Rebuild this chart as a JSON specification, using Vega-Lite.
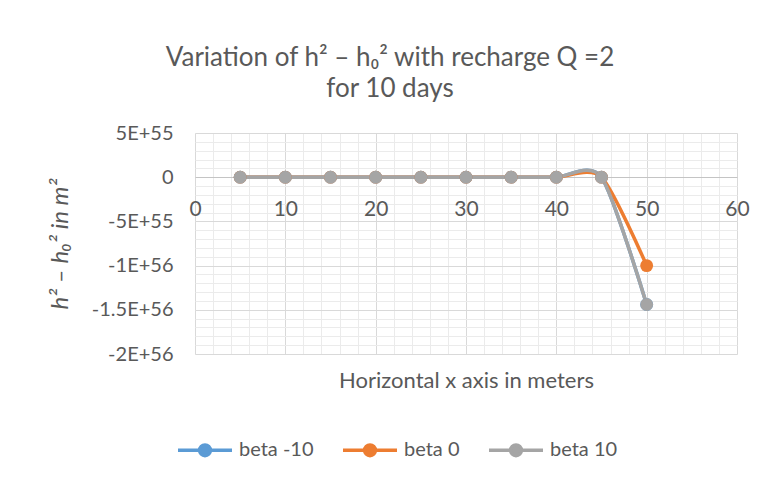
{
  "$schema": "https://vega.github.io/schema/vega-lite/v6.json",
  "width": 542,
  "height": 221,
  "autosize": {"type": "none"},
  "padding": {"left": 195, "top": 133, "right": 31, "bottom": 129},
  "background": "white",
  "config": {"font": "Lato", "view": {"stroke": null}},
  "title": {
    "text": ["Variation of h² – h₀² with recharge Q =2", "for 10 days"],
    "fontSize": 26,
    "fontWeight": "normal",
    "color": "#595959",
    "anchor": "middle",
    "dx": -76,
    "offset": 21,
    "lineHeight": 31
  },
  "data": {
    "values": [
      {"x": 5, "h": 0, "series": "beta -10"},
      {"x": 10, "h": 0, "series": "beta -10"},
      {"x": 15, "h": 0, "series": "beta -10"},
      {"x": 20, "h": 0, "series": "beta -10"},
      {"x": 25, "h": 0, "series": "beta -10"},
      {"x": 30, "h": 0, "series": "beta -10"},
      {"x": 35, "h": 0, "series": "beta -10"},
      {"x": 40, "h": 0, "series": "beta -10"},
      {"x": 45, "h": 0, "series": "beta -10"},
      {"x": 50, "h": -1.44e56, "series": "beta -10"},
      {"x": 5, "h": 0, "series": "beta 0"},
      {"x": 10, "h": 0, "series": "beta 0"},
      {"x": 15, "h": 0, "series": "beta 0"},
      {"x": 20, "h": 0, "series": "beta 0"},
      {"x": 25, "h": 0, "series": "beta 0"},
      {"x": 30, "h": 0, "series": "beta 0"},
      {"x": 35, "h": 0, "series": "beta 0"},
      {"x": 40, "h": 0, "series": "beta 0"},
      {"x": 45, "h": 0, "series": "beta 0"},
      {"x": 50, "h": -1.0e56, "series": "beta 0"},
      {"x": 5, "h": 0, "series": "beta 10"},
      {"x": 10, "h": 0, "series": "beta 10"},
      {"x": 15, "h": 0, "series": "beta 10"},
      {"x": 20, "h": 0, "series": "beta 10"},
      {"x": 25, "h": 0, "series": "beta 10"},
      {"x": 30, "h": 0, "series": "beta 10"},
      {"x": 35, "h": 0, "series": "beta 10"},
      {"x": 40, "h": 0, "series": "beta 10"},
      {"x": 45, "h": 0, "series": "beta 10"},
      {"x": 50, "h": -1.44e56, "series": "beta 10"}
    ]
  },
  "resolve": {"axis": {"x": "independent", "y": "independent"}},
  "layer": [
    {
      "mark": {"type": "line", "opacity": 0},
      "encoding": {
        "x": {"field": "x", "type": "quantitative", "scale": {"domain": [0, 60], "nice": false},
          "axis": {"orient": "bottom", "values": [0,2,4,6,8,10,12,14,16,18,20,22,24,26,28,30,32,34,36,38,40,42,44,46,48,50,52,54,56,58,60],
            "grid": true, "gridColor": "#ebebeb", "gridWidth": 1, "labels": false, "ticks": false, "domain": false, "title": null, "zindex": 0}},
        "y": {"field": "h", "type": "quantitative", "scale": {"domain": [-2e56, 5e55], "nice": false, "zero": false},
          "axis": {"orient": "left", "values": [5e55,4e55,3e55,2e55,1e55,0,-1e55,-2e55,-3e55,-4e55,-5e55,-6e55,-7e55,-8e55,-9e55,-1e56,-1.1e56,-1.2e56,-1.3e56,-1.4e56,-1.5e56,-1.6e56,-1.7e56,-1.8e56,-1.9e56,-2e56],
            "grid": true, "gridColor": "#ebebeb", "gridWidth": 1, "labels": false, "ticks": false, "domain": false, "title": null, "zindex": 0}}
      }
    },
    {
      "mark": {"type": "line", "opacity": 0},
      "encoding": {
        "x": {"field": "x", "type": "quantitative", "scale": {"domain": [0, 60], "nice": false},
          "axis": {"orient": "bottom", "values": [0,10,20,30,40,50,60],
            "grid": true, "gridColor": "#d9d9d9", "gridWidth": 1, "labels": false, "ticks": false, "domain": false, "title": null, "zindex": 0}},
        "y": {"field": "h", "type": "quantitative", "scale": {"domain": [-2e56, 5e55], "nice": false, "zero": false},
          "axis": {"orient": "left", "values": [5e55,0,-5e55,-1e56,-1.5e56,-2e56],
            "grid": true, "gridColor": "#d9d9d9", "gridWidth": 1, "labels": false, "ticks": false, "domain": false, "title": null, "zindex": 0}}
      }
    },
    {
      "mark": {"type": "line", "interpolate": "cardinal", "tension": 0.25, "strokeWidth": 3.5, "point": {"filled": true, "size": 165, "opacity": 1}},
      "encoding": {
        "x": {"field": "x", "type": "quantitative", "scale": {"domain": [0, 60], "nice": false},
          "axis": {"orient": "bottom", "values": [0,10,20,30,40,50,60], "offset": -177,
            "grid": false, "ticks": false, "domain": true, "domainColor": "#c4c4c4", "domainWidth": 1.2,
            "labelFontSize": 21, "labelColor": "#595959", "labelPadding": 21, "labelFlush": false,
            "title": "Horizontal x axis in meters", "titleFontSize": 22, "titleFontWeight": "normal", "titleColor": "#595959",
            "titleY": 203, "titleBaseline": "middle", "zindex": 0}},
        "y": {"field": "h", "type": "quantitative", "scale": {"domain": [-2e56, 5e55], "nice": false, "zero": false},
          "axis": {"orient": "left", "values": [5e55,0,-5e55,-1e56,-1.5e56,-2e56],
            "labelExpr": "datum.value == 0 ? '0' : replace(upper(format(datum.value, '~e')), '−', '-')",
            "grid": false, "ticks": false, "domain": false,
            "labelFontSize": 20, "labelColor": "#595959", "labelPadding": 22,
            "title": "h² – h₀² in m²", "titleFontSize": 24, "titleFontWeight": "normal", "titleFontStyle": "italic", "titleColor": "#595959",
            "titlePadding": 19, "zindex": 0}},
        "color": {"field": "series", "type": "nominal",
          "scale": {"domain": ["beta -10", "beta 0", "beta 10"], "range": ["#5B9BD5", "#ED7D31", "#A5A5A5"]},
          "legend": {"orient": "none", "direction": "horizontal", "legendX": -19, "legendY": 288, "title": null,
            "symbolType": "M-1,0L-0.2,0M0.2,0L1,0M-0.2,0A0.2,0.2,0,1,0,0.2,0A0.2,0.2,0,1,0,-0.2,0Z",
            "symbolSize": 2916, "symbolStrokeWidth": 3.5,
            "labelFontSize": 20, "labelColor": "#595959", "labelOffset": 5, "columnPadding": 22,
            "encode": {"symbols": {"update": {"fill": {"scale": "color", "field": "value"}, "stroke": {"scale": "color", "field": "value"}, "strokeWidth": {"value": 3.5}, "opacity": {"value": 1}}}}}}
      }
    }
  ]
}
